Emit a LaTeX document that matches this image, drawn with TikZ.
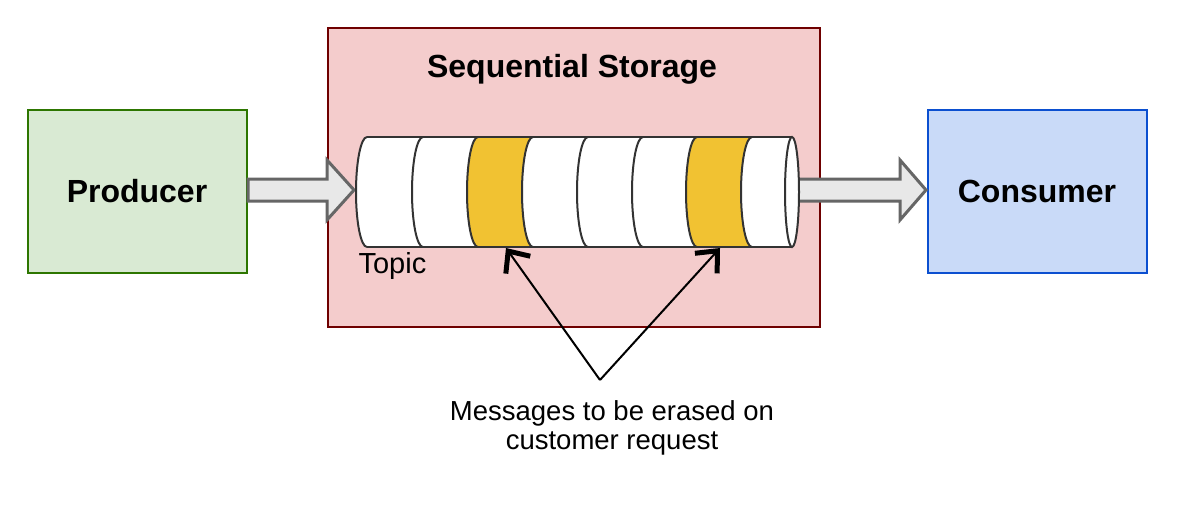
\documentclass[tikz,border=0pt]{standalone}
\usepackage{fontspec}
\setmainfont{Liberation Sans}
\usetikzlibrary{arrows.meta}
\definecolor{prodfill}{HTML}{D9EAD3}
\definecolor{prodline}{HTML}{2D7600}
\definecolor{storfill}{HTML}{F4CCCC}
\definecolor{storline}{HTML}{6F0000}
\definecolor{consfill}{HTML}{C9DAF8}
\definecolor{consline}{HTML}{0B4FD0}
\definecolor{msgyellow}{HTML}{F1C232}
\definecolor{cylline}{HTML}{333333}
\definecolor{blockfill}{HTML}{E8E8E8}
\definecolor{blockline}{HTML}{666666}
\tikzset{
  boxstyle/.style={draw, line width=2pt, inner sep=0pt},
  bigbold/.style={font=\fontsize{32}{38}\selectfont\bfseries},
  plaintext/.style={font=\fontsize{29}{30}\selectfont},
  cylstroke/.style={draw=cylline, line width=2pt},
  blockarrow/.style={fill=blockfill, draw=blockline, line width=3pt, line join=miter},
  pointer/.style={line width=2pt, -{Straight Barb[length=17pt,width=30pt,line width=5pt]}},
}
\begin{document}
\begin{tikzpicture}[x=1pt,y=-1pt]
\useasboundingbox (0,0) rectangle (1200,511);
% boxes
\node[boxstyle, fill=prodfill, draw=prodline, minimum width=219pt, minimum height=163pt] (prod) at (137.5,191.5) {};
\node[bigbold] (prodtxt) at (137,191) {Producer};
\node[boxstyle, fill=storfill, draw=storline, minimum width=492pt, minimum height=299pt] (stor) at (574,177.5) {};
\node[bigbold] (stortxt) at (572,69) {Sequential Storage};
\node[boxstyle, fill=consfill, draw=consline, minimum width=219pt, minimum height=163pt] (cons) at (1037.5,191.5) {};
\node[bigbold] (constxt) at (1037,191) {Consumer};
% block arrows
\draw[blockarrow] (248,179) -- (327,179) -- (327,160) -- (354,190) -- (327,220) -- (327,201) -- (248,201) -- cycle;
\draw[blockarrow] (795,179) -- (900,179) -- (900,160) -- (926,190) -- (900,220) -- (900,201) -- (795,201) -- cycle;
% cylinder body
\fill[white] (367,137) -- (792,137) arc[start angle=270,end angle=450,x radius=7,y radius=55] -- (367,247) arc[start angle=90,end angle=270,x radius=11,y radius=55] -- cycle;
\fill[msgyellow] (478,137) -- (533,137) arc[start angle=270,end angle=90,x radius=11,y radius=55] -- (478,247) arc[start angle=90,end angle=270,x radius=11,y radius=55] -- cycle;
\fill[msgyellow] (697,137) -- (752,137) arc[start angle=270,end angle=90,x radius=11,y radius=55] -- (697,247) arc[start angle=90,end angle=270,x radius=11,y radius=55] -- cycle;
\draw[cylstroke] (367,137) -- (792,137);
\draw[cylstroke] (367,247) -- (792,247);
\foreach \xl in {356,412,467,522,577,632,686,741}{
  \draw[cylstroke] (\xl+11,137) arc[start angle=270,end angle=90,x radius=11,y radius=55];
}
\draw[cylstroke, fill=white] (792,192) ellipse[x radius=7,y radius=55];
\node[plaintext, anchor=west] (topic) at (355,266) {Topic};
% pointers
\coordinate (msgA) at (506,248);
\coordinate (msgB) at (720,248);
\coordinate (apex) at (600,380);
\draw[pointer] (apex) -- (msgA);
\draw[pointer] (apex) -- (msgB);
\node[align=center, font=\fontsize{27.5}{29}\selectfont] (caption) at (612,428) {Messages to be erased on\\customer request};
\end{tikzpicture}
\end{document}
